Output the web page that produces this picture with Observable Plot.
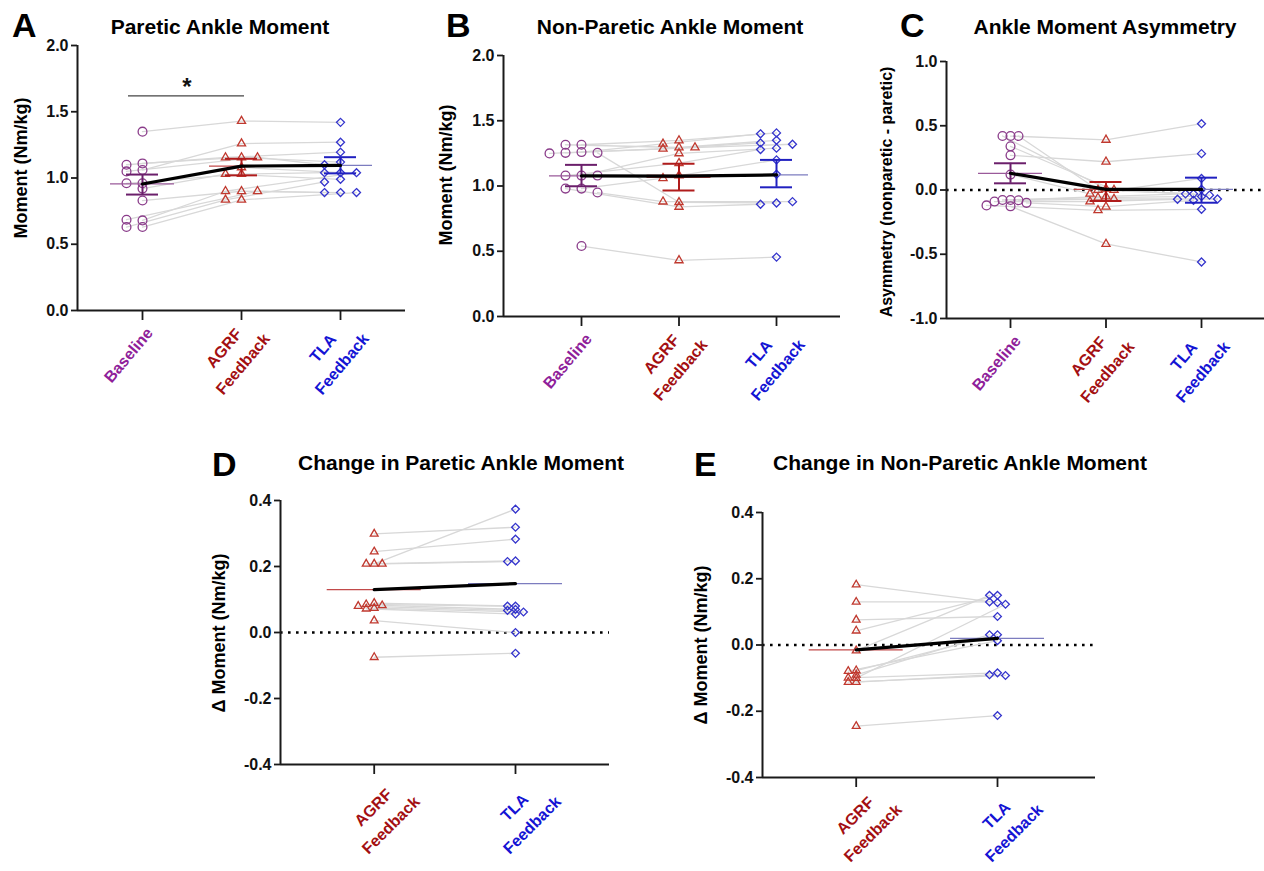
<!DOCTYPE html>
<html><head><meta charset="utf-8">
<script src="https://cdn.jsdelivr.net/npm/d3@7"></script>
<script src="https://cdn.jsdelivr.net/npm/@observablehq/plot@0.6"></script>
<style>
body{margin:0;background:#fff;}
#root{position:relative;width:1264px;height:871px;overflow:hidden;background:#fff;font-family:"Liberation Sans",Arial,sans-serif;}
.pnl{position:absolute;}
.pnl [aria-label^="y-axis"] path,.pnl [aria-label^="x-axis"] path,.pnl [aria-label^="y-axis"] line,.pnl [aria-label^="x-axis"] line{stroke-width:1.8px;stroke:#1a1a1a;}
</style></head><body><div id="root"></div>
<script>
// ---------- categories & labels ----------
const conditions3 = ["Baseline", "AGRF\nFeedback", "TLA\nFeedback"];
const conditions2 = ["AGRF\nFeedback", "TLA\nFeedback"];
const ticksMoment = [0, 0.5, 1.0, 1.5, 2.0];
const ticksAsym = [-1.0, -0.5, 0.0, 0.5, 1.0];
const ticksDelta = [-0.4, -0.2, 0.0, 0.2, 0.4];

// ---------- A: paretic ankle moment (per subject) ----------
const pareticBaseline = [1.35,1.11,1.10,1.06,1.05,0.96,0.96,0.92,0.83,0.68,0.685,0.63,0.63];
const pareticAGRF     = [1.43,1.155,1.155,1.26,1.155,1.08,1.03,1.03,0.90,0.90,0.90,0.835,0.835];
const pareticTLA      = [1.42,1.12,1.195,1.27,1.10,1.04,1.04,0.99,0.89,1.04,0.89,0.89,0.97];
const pareticMean  = [0.955, 1.09, 1.095];
const pareticSemLo = [0.875, 1.02, 1.035];
const pareticSemHi = [1.026, 1.145, 1.157];
const pareticSig = [{from: 0, to: 1, y: 1.62, label: "*"}];

// ---------- B: non-paretic ankle moment ----------
const nonpareticBaseline = [1.316,1.316,1.26,1.254,1.254,1.25,1.08,1.08,1.08,0.98,0.98,0.95,0.54];
const nonpareticAGRF     = [1.349,1.295,1.323,1.285,0.875,1.295,1.25,1.175,1.08,1.06,0.84,0.88,0.43];
const nonpareticTLA      = [1.407,1.35,1.40,1.33,0.87,1.32,1.29,1.28,1.20,1.09,0.86,0.88,0.455];
const nonpareticMean  = [1.078, 1.075, 1.085];
const nonpareticSemLo = [0.998, 0.965, 0.99];
const nonpareticSemHi = [1.162, 1.17, 1.20];

// ---------- C: asymmetry ----------
const asymBaseline = [0.42,0.42,0.42,0.34,0.27,0.12,-0.078,-0.078,-0.08,-0.09,-0.10,-0.12,-0.127];
const asymAGRF     = [0.39,0.01,0.0,0.0,0.22,-0.03,-0.05,-0.06,-0.07,-0.09,-0.13,-0.158,-0.42];
const asymTLA      = [0.516,0.005,-0.03,-0.04,0.283,0.09,-0.03,-0.05,-0.07,-0.072,-0.08,-0.15,-0.56];
const asymMean  = [0.13, 0.005, 0.005];
const asymSemLo = [0.052, -0.086, -0.099];
const asymSemHi = [0.208, 0.062, 0.096];

// ---------- D: change in paretic moment ----------
const deltaPareticAGRF = [0.299,0.245,0.208,0.208,0.208,0.089,0.085,0.082,0.08,0.074,0.072,0.036,-0.075];
const deltaPareticTLA  = [0.319,0.283,0.374,0.217,0.215,0.08,0.08,0.07,0.067,0.062,0.056,0.0,-0.063];
const deltaPareticMean = [0.13, 0.148];

// ---------- E: change in non-paretic moment ----------
const deltaNonAGRF = [0.182,0.13,0.076,0.043,-0.017,-0.077,-0.079,-0.09,-0.099,-0.1,-0.112,-0.112,-0.245];
const deltaNonTLA  = [0.128,0.13,0.086,0.15,0.15,0.031,0.013,0.031,-0.084,0.123,-0.09,-0.092,-0.213];
const deltaNonMean = [-0.015, 0.02];

// ---------- styles ----------
const FONT = "Liberation Sans, Arial, sans-serif";
const colBase = {pt: "#8a3c8a", bar: "#6b1f6b", mean: "#9a5a9a", lab: "#8f1f9a"};
const colAGRF = {pt: "#c0392f", bar: "#b01c1c", mean: "#c24a4a", lab: "#a30f12"};
const colTLA  = {pt: "#3434cc", bar: "#2020c0", mean: "#7c7cbf", lab: "#1414d4"};

const root = d3.select("#root");

function addPanel(cfg) {
  const {left, top, width, height, mL, mR, mT, mB, cat0, spacing, yDomain, yTicks, series, means, semLo, semHi, cols, labels, symbols, radii} = cfg;
  const xDomain = [(left + mL - cat0) / spacing, (left + width - mR - cat0) / spacing];
  const innerH = height - mT - mB;
  const yPx = v => mT + (yDomain[1] - v) / (yDomain[1] - yDomain[0]) * innerH;
  const points = [];
  series.forEach((vals, c) => {
    const placed = [];
    vals.forEach((v, s) => {
      const y = yPx(v);
      let off = 0;
      for (const k of [0, -1, 1, -2, 2, -3, 3]) {
        if (!placed.some(p => p.k === k && Math.abs(p.y - y) < cfg.thresh)) { off = k; placed.push({k, y}); break; }
      }
      points.push({c, s, v, x: c + off * cfg.step / spacing});
    });
  });
  const linePts = points.slice().sort((a, b) => a.s - b.s || a.c - b.c);
  const meanData = means.map((m, c) => ({c, m, lo: semLo ? semLo[c] : null, hi: semHi ? semHi[c] : null}));
  const marks = [];
  if (cfg.zero) marks.push(Plot.ruleY([0], {stroke: "#000", strokeWidth: 2.6, strokeDasharray: "2.6,5.4"}));
  marks.push(Plot.line(linePts, {x: "x", y: "v", z: "s", stroke: "#d8d8d8", strokeWidth: 1.3}));
  series.forEach((_, c) => {
    marks.push(Plot.dot(points.filter(p => p.c === c), {x: "x", y: "v", symbol: symbols[c], r: radii[c], stroke: cols[c].pt, fill: "none", strokeWidth: 1.3}));
  });
  series.forEach((_, c) => {
    marks.push(Plot.ruleY([meanData[c]], {y: "m", x1: d => d.c - cfg.meanHalf / spacing, x2: d => d.c + cfg.meanHalf / spacing, stroke: cols[c].mean, strokeWidth: cfg.meanWidths ? cfg.meanWidths[c] : 1.3}));
    if (semLo) {
      const d = [meanData[c]];
      marks.push(Plot.ruleX(d, {x: "c", y1: "lo", y2: "hi", stroke: cols[c].bar, strokeWidth: 2}));
      marks.push(Plot.ruleY(d, {y: "hi", x1: e => e.c - cfg.capHalf / spacing, x2: e => e.c + cfg.capHalf / spacing, stroke: cols[c].bar, strokeWidth: 2}));
      marks.push(Plot.ruleY(d, {y: "lo", x1: e => e.c - cfg.capHalf / spacing, x2: e => e.c + cfg.capHalf / spacing, stroke: cols[c].bar, strokeWidth: 2}));
    }
  });
  marks.push(Plot.line(meanData, {x: "c", y: "m", stroke: "#000", strokeWidth: 3.2}));
  if (cfg.sig) {
    marks.push(Plot.ruleY(cfg.sig, {y: "y", x1: d => d.from - 14 / spacing, x2: d => d.to + 3 / spacing, stroke: "#444", strokeWidth: 1.4}));
    marks.push(Plot.text(cfg.sig, {x: d => (d.from + d.to) / 2 - 5 / spacing, y: "y", text: "label", dy: -9, fontSize: 24, fontWeight: "bold", fill: "#111"}));
  }
  // axis lines
  marks.push(Plot.ruleX([xDomain[0]], {stroke: "#1a1a1a", strokeWidth: 2}));
  marks.push(Plot.ruleY([yDomain[0]], {stroke: "#1a1a1a", strokeWidth: 2}));
  // category labels
  labels.forEach((t, c) => {
    const multi = t.includes("\n");
    marks.push(Plot.text([{c, t}], {x: "c", text: "t", frameAnchor: "bottom", fill: cols[c].lab, rotate: cfg.labRotate,
      dx: multi ? cfg.multiDx : cfg.singleDx, dy: multi ? cfg.multiDy : cfg.singleDy,
      fontSize: 16, fontWeight: "bold", lineHeight: 1.55, textAnchor: "middle", lineAnchor: "middle"}));
  });
  const chart = Plot.plot({
    width, height, marginLeft: mL, marginRight: mR, marginTop: mT, marginBottom: mB,
    x: {domain: xDomain, ticks: series.map((_, c) => c), tickFormat: () => "", tickSize: 10, label: null},
    y: {domain: yDomain, ticks: yTicks, tickFormat: d => d.toFixed(1), tickSize: 6, tickPadding: 3, label: null},
    style: {background: "transparent", fontFamily: FONT, fontSize: "16px", fontWeight: "bold", color: "#111", overflow: "visible"},
    marks
  });
  const div = root.append("div").attr("class", "pnl")
    .style("left", left + "px").style("top", top + "px").style("width", width + "px").style("height", height + "px");
  div.node().appendChild(chart);
}

const three = {symbols: ["circle", "triangle2", "diamond2"], radii: [4.4, 3.9, 3.6], cols: [colBase, colAGRF, colTLA], labels: conditions3,
  labRotate: -50, singleDx: -16, singleDy: 43, multiDx: -10, multiDy: 44, meanHalf: 32, capHalf: 16};
const two = {symbols: ["triangle2", "diamond2"], radii: [3.7, 3.5], cols: [colAGRF, colTLA], labels: conditions2,
  labRotate: -45, meanHalf: 47, step: 8, thresh: 3, zero: true};

addPanel({...three, left: 0, top: 0, width: 420, height: 420, mL: 77, mR: 15, mT: 45, mB: 110, cat0: 142, spacing: 99,
  yDomain: [0, 2], yTicks: ticksMoment, series: [pareticBaseline, pareticAGRF, pareticTLA],
  means: pareticMean, semLo: pareticSemLo, semHi: pareticSemHi, step: 16, thresh: 4.5, sig: pareticSig});
addPanel({...three, left: 420, top: 0, width: 425, height: 420, mL: 83, mR: 5, mT: 55, mB: 104, cat0: 581, spacing: 97.5,
  yDomain: [0, 2], yTicks: ticksMoment, series: [nonpareticBaseline, nonpareticAGRF, nonpareticTLA],
  means: nonpareticMean, semLo: nonpareticSemLo, semHi: nonpareticSemHi, step: 16, thresh: 4.5, meanWidths: [1.3, 3, 1.3],
  cols: [colBase, {...colAGRF, mean: "#a01515"}, colTLA]});
addPanel({...three, left: 845, top: 0, width: 419, height: 420, mL: 101, mR: 0, mT: 61, mB: 102, cat0: 1010, spacing: 95.5,
  yDomain: [-1, 1], yTicks: ticksAsym, series: [asymBaseline, asymAGRF, asymTLA],
  means: asymMean, semLo: asymSemLo, semHi: asymSemHi, step: 8, thresh: 6, zero: true});
addPanel({...two, left: 200, top: 430, width: 420, height: 441, mL: 80, mR: 11, mT: 70, mB: 107, cat0: 373.7, spacing: 141.3,
  yDomain: [-0.4, 0.4], yTicks: ticksDelta, series: [deltaPareticAGRF, deltaPareticTLA], means: deltaPareticMean,
  multiDx: 6, multiDy: 50});
addPanel({...two, left: 680, top: 430, width: 420, height: 441, mL: 82, mR: 5, mT: 82, mB: 94, cat0: 855.7, spacing: 141.3,
  yDomain: [-0.4, 0.4], yTicks: ticksDelta, series: [deltaNonAGRF, deltaNonTLA], means: deltaNonMean,
  multiDx: 6, multiDy: 45});

// ---------- overlay text: panel letters, titles, y-axis labels ----------
const panelLetters = [["A", 12, 37], ["B", 446, 37], ["C", 900, 37], ["D", 212, 476], ["E", 694, 476]];
const panelTitles = [["Paretic Ankle Moment", 220, 34], ["Non-Paretic Ankle Moment", 670, 34], ["Ankle Moment Asymmetry", 1105, 34],
  ["Change in Paretic Ankle Moment", 461, 470], ["Change in Non-Paretic Ankle Moment", 960, 470]];
const yAxisLabels = [["Moment (Nm/kg)", 21, 168, 18], ["Moment (Nm/kg)", 446, 175, 18], ["Asymmetry (nonparetic - paretic)", 886, 192, 16],
  ["\u0394 Moment (Nm/kg)", 219, 633, 18], ["\u0394 Moment (Nm/kg)", 701, 645, 18]];
const ov = root.append("svg").attr("width", 1264).attr("height", 871)
  .style("position", "absolute").style("left", 0).style("top", 0).style("pointer-events", "none")
  .style("font-family", FONT).style("font-weight", "bold");
ov.selectAll("text.l").data(panelLetters).join("text").attr("class", "l")
  .attr("x", d => d[1]).attr("y", d => d[2]).attr("font-size", 34).text(d => d[0]);
ov.selectAll("text.t").data(panelTitles).join("text").attr("class", "t")
  .attr("x", d => d[1]).attr("y", d => d[2]).attr("font-size", 21).attr("text-anchor", "middle").text(d => d[0]);
ov.selectAll("text.y").data(yAxisLabels).join("text").attr("class", "y")
  .attr("transform", d => `translate(${d[1]},${d[2]}) rotate(-90)`).attr("font-size", d => d[3])
  .attr("text-anchor", "middle").attr("dominant-baseline", "central").text(d => d[0]);
</script></body></html>
